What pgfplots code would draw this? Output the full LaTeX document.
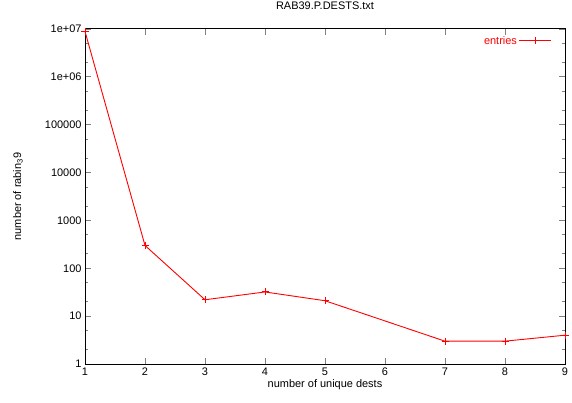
\documentclass[border=0pt]{standalone}
\usepackage{pgfplots}
\pgfplotsset{compat=1.18}
\usepackage{fontspec}
\setmainfont{Liberation Sans}
\begin{document}
\begin{tikzpicture}
\useasboundingbox (0,0) rectangle (572bp,403bp);
\begin{axis}[
  at={(85bp,39bp)}, anchor=south west,
  scale only axis, width=480bp, height=335bp,
  ymode=log,
  xmin=1, xmax=9, ymin=1, ymax=1e7,
  xtick={1,2,3,4,5,6,7,8,9},
  ytick={1,10,100,1000,10000,100000,1000000,10000000},
  yticklabels={1,10,100,1000,10000,100000,1e+06,1e+07},
  minor ytick={2,5,20,50,200,500,2000,5000,20000,50000,200000,500000,2000000,5000000},
  tick align=inside,
  major tick length=6bp, minor tick length=3bp,
  tick style={line width=0.8bp},
  axis line style={line width=1bp, black},
  font=\fontsize{11}{13}\selectfont,
  /pgf/number format/assume math mode=true,
  clip=false,
  title={RAB39.P.DESTS.txt},
  title style={at={(axis description cs:0.5,1.0507)}, anchor=center, font=\fontsize{11}{13}\selectfont},
  xlabel={number of unique dests},
  xlabel style={at={(axis description cs:0.5,-0.0627)}, anchor=center},
  ylabel={number of rabin\textsubscript{3}9},
  ylabel style={at={(axis description cs:-0.1396,0.5)}, anchor=center, rotate=0},
  legend style={at={(axis description cs:1,1)}, anchor=north east, draw=none, fill=none, xshift=-10bp, yshift=-3bp, font=\fontsize{11}{13}\selectfont},
  legend cell align=right,
  legend plot pos=right,
  legend image code/.code={\draw[#1, mark repeat=2, mark phase=2] plot coordinates {(0bp,0bp) (16bp,0bp) (32bp,0bp)};},
]
\addplot[color=red, line width=0.9bp, mark=+, mark size=3.5bp, mark options={red, solid, line width=1bp}]
  coordinates {(1,8900000) (2,300) (3,22) (4,32) (5,21) (7,3) (8,3) (9,4)};
\addlegendentry{\textcolor{red}{entries}}
\end{axis}
\end{tikzpicture}
\end{document}
